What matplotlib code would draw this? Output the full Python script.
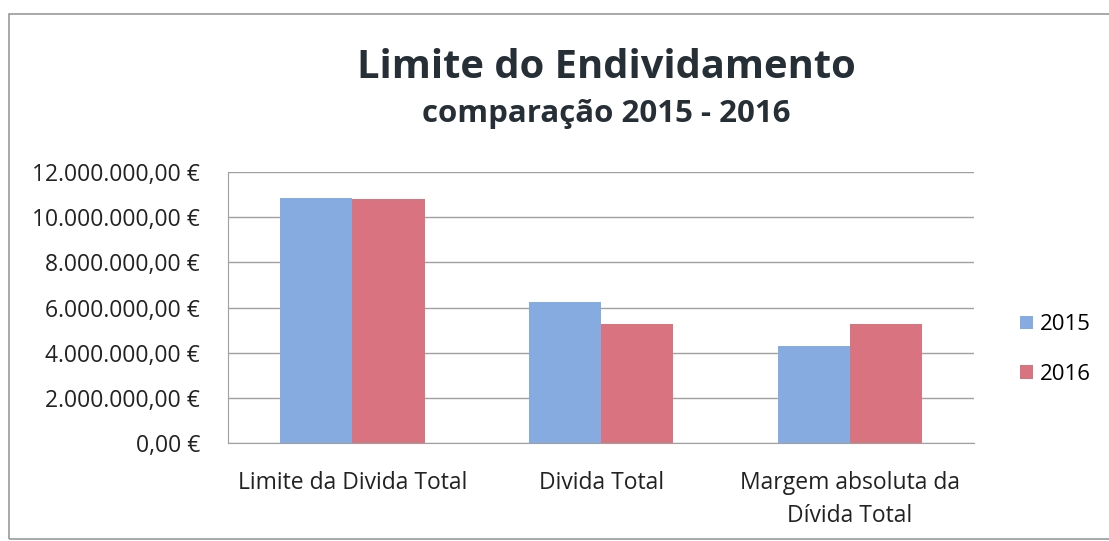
import matplotlib
matplotlib.use("Agg")
import matplotlib.pyplot as plt
import numpy as np
from matplotlib.patches import Rectangle

categories = ["Limite da Divida Total", "Divida Total", "Margem absoluta da\nDívida Total"]
years = ["2015", "2016"]
values_2015 = [10840000, 6240000, 4300000]
values_2016 = [10800000, 5250000, 5290000]
yticks = [0, 2000000, 4000000, 6000000, 8000000, 10000000, 12000000]

BLUE = "#86abe0"
RED = "#d9737f"
FONT = "Open Sans"
TXT = "#222222"


def euro(v):
    s = f"{v:,.2f}"
    s = s.replace(",", "X").replace(".", ",").replace("X", ".")
    return s + " €"


fig = plt.figure(figsize=(11.09, 5.41), dpi=100)
ax = fig.add_axes([0.2056, 0.181, 0.673, 0.501])

x = np.arange(len(categories))
w = 0.29
ax.bar(x - w / 2, values_2015, w, color=BLUE, label=years[0], zorder=3)
ax.bar(x + w / 2, values_2016, w, color=RED, label=years[1], zorder=3)

ax.set_xlim(-0.5, len(categories) - 0.5)
ax.set_ylim(0, 12000000)
ax.set_yticks(yticks)
ax.set_yticklabels([euro(v) for v in yticks], fontsize=16.5, family=FONT, color=TXT)
ax.set_xticks(x)
ax.set_xticklabels(categories, fontsize=16.5, family=FONT, color=TXT, linespacing=1.5)
ax.tick_params(axis="both", length=0)
ax.tick_params(axis="y", pad=20)
ax.tick_params(axis="x", pad=20)

ax.grid(axis="y", color="#a0a0a0", linewidth=1.0, zorder=0)
for side in ("top", "right"):
    ax.spines[side].set_visible(False)
ax.spines["left"].set_color("#a0a0a0")
ax.spines["bottom"].set_color("#a0a0a0")

ax.legend(loc="center left", bbox_to_anchor=(1.035, 0.345), frameon=False,
          prop={"family": FONT, "size": 16}, handlelength=0.55, handleheight=0.55,
          handletextpad=0.3, labelspacing=1.3)

fig.text(0.547, 0.856, "Limite do Endividamento", ha="center", va="baseline",
         fontsize=28.7, fontweight="bold", family=FONT, color="#262f36")
fig.text(0.547, 0.774, "comparação 2015 - 2016", ha="center", va="baseline",
         fontsize=22.5, fontweight="bold", family=FONT, color="#262f36")

fig.patches.append(Rectangle((0.008, 0.004), 1.1, 0.97, transform=fig.transFigure,
                             fill=False, edgecolor="#999999", linewidth=1.2))

fig.savefig("out.png", dpi=100)
